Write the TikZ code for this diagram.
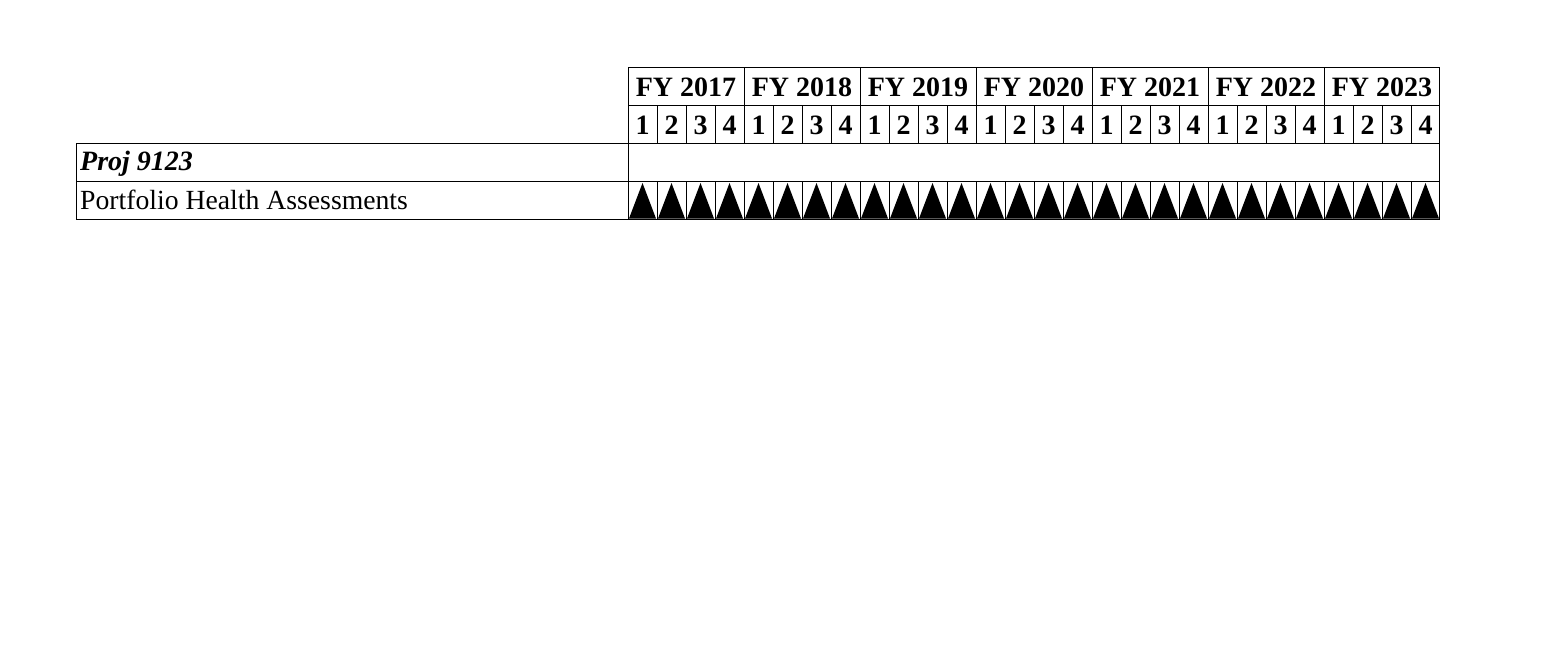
\documentclass[tikz,border=0pt]{standalone}
\usepackage{fontspec}
\setmainfont{Liberation Serif}
\begin{document}
\begin{tikzpicture}[x=1pt,y=-1pt,
  gridline/.style={line width=1pt,draw=black},
  hdr/.style={font=\fontsize{28}{31}\selectfont\bfseries,anchor=base,inner sep=0pt},
  lbl/.style={font=\fontsize{27.7}{31}\selectfont,anchor=base west,inner sep=0pt},
  tri/.style={fill=black,draw=none}]
\useasboundingbox (0,0) rectangle (1560,646);
% outer lines
\draw[gridline] (628,67) rectangle (1439,219);
\draw[gridline] (76,143) rectangle (628,219);
\draw[gridline] (628,105) -- (1439,105);
\draw[gridline] (76,143) -- (1439,143);
\draw[gridline] (76,181) -- (1439,181);
% years
\foreach \y [count=\i from 0] in {2017,...,2023} {
  \pgfmathsetmacro{\xl}{628+116*\i}
  \pgfmathsetmacro{\xc}{\xl+58}
  \node[hdr] (fy\y) at (\xc,96) {FY \y};
  \ifnum\i>0 \draw[gridline] (\xl,67) -- (\xl,105); \fi
  \foreach \q in {1,...,4} {
    \pgfmathsetmacro{\ql}{\xl+29*(\q-1)}
    \pgfmathsetmacro{\qc}{\ql+14.5}
    \pgfmathsetmacro{\qr}{\ql+29}
    \node[hdr] (q\y-\q) at (\qc,134) {\q};
    \draw[gridline] (\ql,105) -- (\ql,143);
    \draw[gridline] (\ql,181) -- (\ql,219);
    \fill[tri] (\ql+1,218.5) -- (\qc,183) -- (\qr-1,218.5) -- cycle;
  }
}
\node[lbl,font=\fontsize{28}{31}\selectfont\bfseries\itshape] (proj) at (80,170) {Proj 9123};
\node[lbl] (pha) at (80,209) {Portfolio Health Assessments};
\end{tikzpicture}
\end{document}
